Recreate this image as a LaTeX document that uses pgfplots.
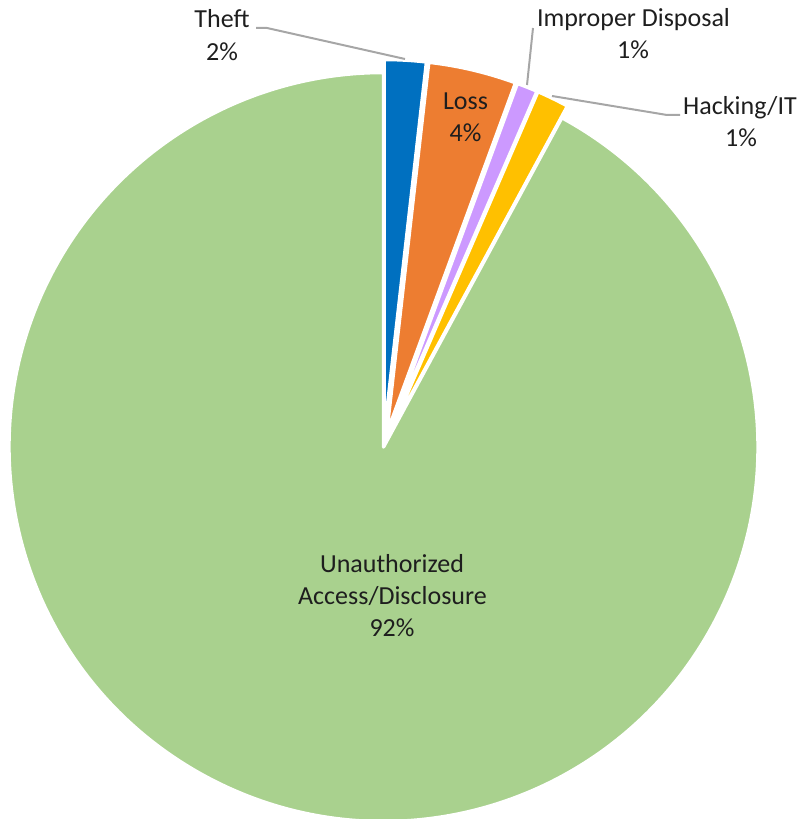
\documentclass[border=0pt]{standalone}
\usepackage{pgfplots}
\usepackage{pgfplotstable}
\pgfplotsset{compat=1.18}
\usepackage{fontspec}
\setmainfont{Carlito}
\definecolor{cTheft}{HTML}{0070C0}
\definecolor{cLoss}{HTML}{ED7D31}
\definecolor{cImp}{HTML}{CC99FF}
\definecolor{cHack}{HTML}{FFC000}
\definecolor{cUna}{HTML}{A9D18E}
\definecolor{txt}{HTML}{1E1E1E}
\definecolor{lead}{HTML}{A6A6A6}
\tikzset{lbl/.style={font=\fontsize{26}{31.7}\selectfont, text=txt, inner sep=0pt, anchor=base}}

\pgfplotstableread{
name value explode
Theft 1.8 13
Loss 3.8 13
Improper 0.9 13
Hacking 1.4 13
Unauthorized 92.1 0
}\piedata

\xdef\cum{0}
\newcommand\slice[2]{%
  \pgfplotstablegetelem{#1}{value}\of\piedata \let\val\pgfplotsretval
  \pgfplotstablegetelem{#1}{explode}\of\piedata \let\ex\pgfplotsretval
  \pgfmathsetmacro\sa{90-3.6*\cum}%
  \pgfmathsetmacro\ea{90-3.6*(\cum+\val)}%
  \pgfmathsetmacro\ma{(\sa+\ea)/2}%
  \pgfmathsetmacro\cx{383.5+\ex*cos(\ma)}%
  \pgfmathsetmacro\cy{-447+\ex*sin(\ma)}%
  \pgfmathsetmacro\px{\cx+374.5*cos(\sa)}%
  \pgfmathsetmacro\py{\cy+374.5*sin(\sa)}%
  \edef\temp{\noexpand\fill[#2, draw=white, line width=3.5pt, line join=round] (axis cs:\cx,\cy) -- (axis cs:\px,\py) arc[start angle=\sa, end angle=\ea, radius=374.5pt] -- cycle;}%
  \temp
  \pgfmathsetmacro\newcum{\cum+\val}%
  \xdef\cum{\newcum}%
}

\begin{document}
\begin{tikzpicture}
\begin{axis}[
  x=1pt, y=1pt,
  xmin=0, xmax=807, ymin=-819, ymax=0,
  hide axis, clip=false,
]
\path[use as bounding box] (rel axis cs:0,0) rectangle (rel axis cs:1,1);
\slice{0}{cTheft}
\slice{1}{cLoss}
\slice{2}{cImp}
\slice{3}{cHack}
\slice{4}{cUna}

\addplot[lead, line width=2pt, no markers] coordinates {(256,-28) (267,-28) (405,-59)};
\addplot[lead, line width=2pt, no markers] coordinates {(533,-28) (527,-85)};
\addplot[lead, line width=2pt, no markers] coordinates {(552,-96) (667,-115) (680,-115)};

\node[lbl] at (axis cs:222,-28) {Theft};
\node[lbl] at (axis cs:222,-61) {2\%};
\node[lbl] at (axis cs:465.5,-110) {Loss};
\node[lbl] at (axis cs:465.5,-142) {4\%};
\node[lbl] at (axis cs:633.5,-27) {Improper Disposal};
\node[lbl] at (axis cs:633,-59) {1\%};
\node[lbl] at (axis cs:740,-115) {Hacking/IT};
\node[lbl] at (axis cs:741,-147) {1\%};
\node[lbl] at (axis cs:392,-573) {Unauthorized};
\node[lbl] at (axis cs:392.5,-605) {Access/Disclosure};
\node[lbl] at (axis cs:392,-637) {92\%};
\end{axis}
\end{tikzpicture}
\end{document}
